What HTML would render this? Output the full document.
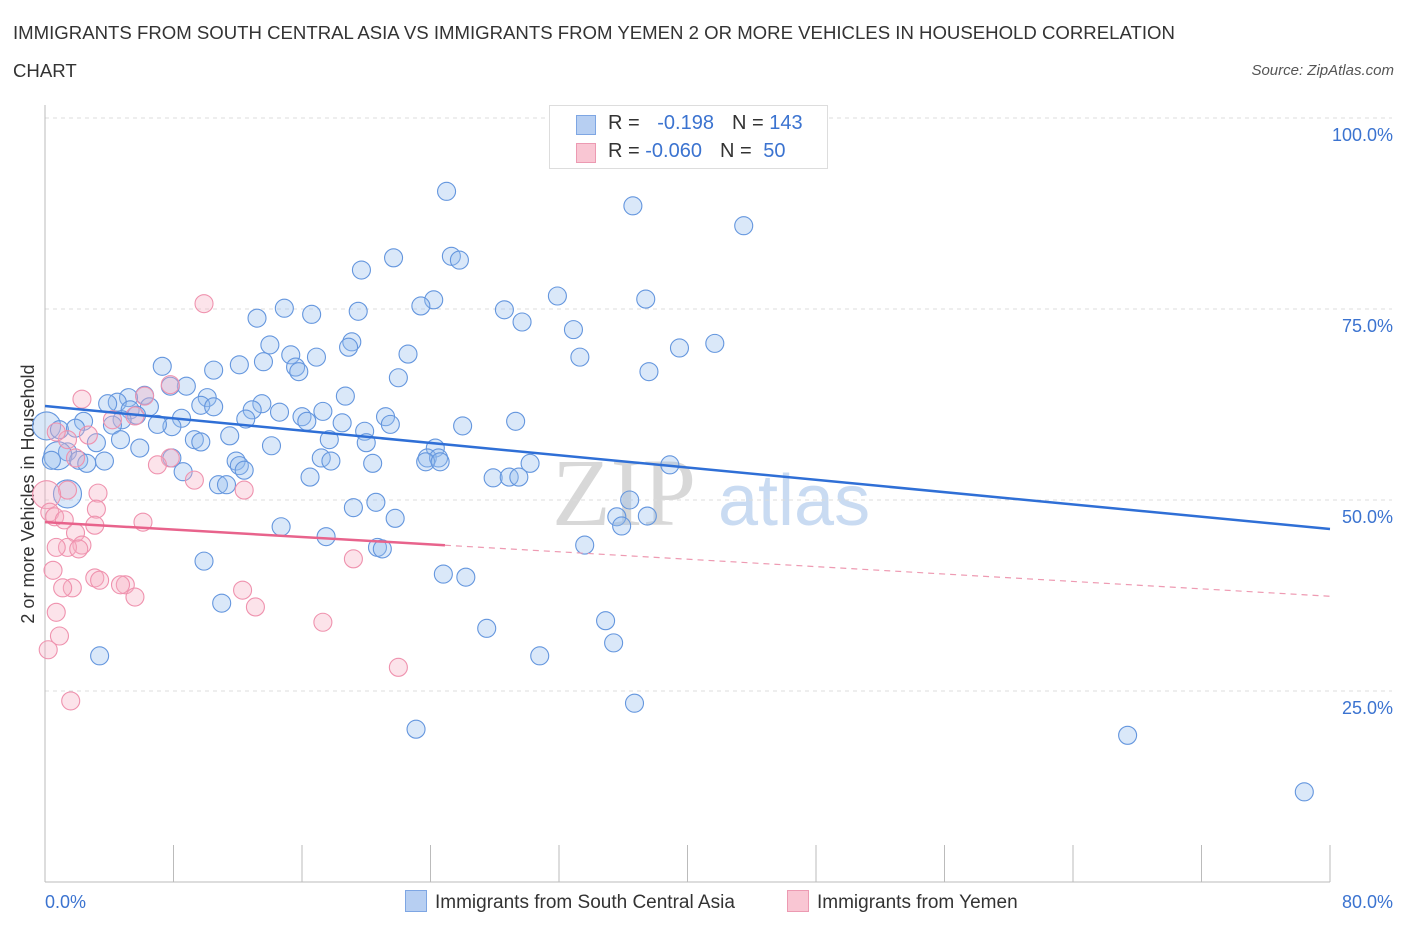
<!DOCTYPE html>
<html><head><meta charset="utf-8"><style>
body{margin:0;background:#fff;font-family:"Liberation Sans",sans-serif}
#wrap{position:relative;width:1406px;height:930px}
.t{position:absolute;white-space:nowrap}
</style></head><body>
<div id="wrap">
<div class="t" style="left:13px;top:14px;font-size:18.6px;color:#333;line-height:38px;width:1200px;white-space:normal">IMMIGRANTS FROM SOUTH CENTRAL ASIA VS IMMIGRANTS FROM YEMEN 2 OR MORE VEHICLES IN HOUSEHOLD CORRELATION CHART</div>
<div class="t" style="right:12px;top:62px;font-size:15px;color:#555;font-style:italic">Source: ZipAtlas.com</div>
<svg id="svg" width="1406" height="930" style="position:absolute;left:0;top:0"></svg>
</div>
<script>
const xTicks=[0,80];
const yTicks=[25,50,75,100];
const blueX=[25.0,36.6,43.5,21.7,25.3,25.8,19.7,31.9,37.4,24.2,23.4,28.6,14.9,16.6,19.5,13.2,29.7,32.9,14.0,19.1,18.9,22.6,39.5,41.7,15.3,16.9,33.3,13.6,12.1,7.3,10.5,15.6,15.8,37.6,22.0,8.8,7.8,6.2,18.7,5.2,10.1,4.5,9.7,10.5,3.9,6.5,5.3,13.5,12.9,14.6,17.3,16.0,16.3,5.7,4.8,21.2,21.5,8.5,12.5,18.5,19.9,26.0,29.3,2.4,4.2,7.9,7.0,0.1,0.9,1.9,11.5,9.3,9.7,4.7,17.7,20.0,24.3,14.1,3.2,5.9,1.4,0.8,0.4,2.1,2.6,3.7,7.9,11.9,12.1,17.2,17.8,20.4,23.8,24.5,23.7,24.6,30.2,8.6,12.4,16.5,27.9,28.9,29.5,38.9,10.8,11.3,1.4,20.6,19.2,36.4,35.6,37.5,21.8,35.9,14.7,17.5,20.7,21.0,33.6,9.9,24.8,26.2,11.0,27.5,34.9,35.4,30.8,3.4,36.7,23.1,67.4,78.4];
const blueY=[90.4,88.5,85.9,81.7,81.9,81.4,80.1,76.7,76.3,76.2,75.4,74.9,75.1,74.3,74.7,73.8,73.3,72.3,70.3,70.7,70.0,69.1,69.9,70.5,69.0,68.7,68.7,68.1,67.7,67.5,67.0,67.4,66.8,66.8,66.0,64.9,64.9,63.7,63.6,63.4,63.4,62.8,62.4,62.2,62.6,62.2,61.8,62.6,61.8,61.5,61.6,60.9,60.3,61.1,60.5,60.9,59.9,60.7,60.6,60.1,59.0,59.7,60.3,60.3,59.8,59.6,59.9,59.7,59.2,59.4,58.4,57.9,57.6,57.9,57.9,57.5,56.8,57.1,57.5,56.8,56.3,55.8,55.2,55.2,54.8,55.1,55.5,55.1,54.5,55.5,55.1,54.8,55.5,55.5,55.0,55.0,54.8,53.7,53.9,53.0,52.9,53.0,53.0,54.6,52.0,52.0,50.8,49.7,49.0,50.0,47.8,47.9,47.6,46.6,46.5,45.2,43.8,43.6,44.1,42.0,40.3,39.9,36.5,33.2,34.2,31.3,29.6,29.6,23.4,20.0,19.2,11.8];
const pinkX=[9.9,2.3,7.8,6.2,5.6,4.2,2.7,1.4,1.9,7.8,7.0,9.3,12.4,3.3,1.4,0.1,0.3,0.6,1.2,3.2,6.1,3.1,1.9,2.3,1.4,0.7,2.1,3.1,3.4,5.0,4.7,1.7,1.1,19.2,0.5,5.6,12.3,13.1,0.7,17.3,0.9,0.2,22.0,1.6,0.7];
const pinkY=[75.7,63.2,65.1,63.6,61.0,60.5,58.5,57.9,55.5,55.5,54.6,52.6,51.3,50.9,51.3,50.7,48.4,47.8,47.4,48.8,47.1,46.7,45.7,44.1,43.8,43.8,43.6,39.8,39.5,38.9,38.9,38.5,38.5,42.3,40.8,37.3,38.2,36.0,35.3,34.0,32.2,30.4,28.1,23.7,58.9];
const blueTrend=[62.3,46.2];
const pinkTrend=[47.1,37.4];
const pinkSolidEnd=24.9;
const big=[[0.1,59.7],[0.8,55.8],[1.4,50.8],[0.1,50.7]];

const X0=45,X1=1330,Y0=882,Y100=118;
const sx=v=>X0+(X1-X0)*v/80;
const sy=v=>Y0-(Y0-Y100)*v/100;
const svg=document.getElementById('svg');
const NS='http://www.w3.org/2000/svg';
function mk(tag,attrs,parent){const e=document.createElementNS(NS,tag);for(const k in attrs)e.setAttribute(k,attrs[k]);(parent||svg).appendChild(e);return e;}

let w=mk('text',{x:552,y:525,'font-size':96,'font-family':'Liberation Serif,serif',fill:'#d8d8d8'});w.textContent='ZIP';


w=mk('text',{x:718,y:525,'font-size':72,'font-family':'Liberation Sans,sans-serif',fill:'#c9dbf2'});w.textContent='atlas';



yTicks.forEach(t=>{
  const g=mk('line',{x1:X0,x2:1392,y1:sy(t),y2:sy(t),stroke:'#dcdcdc','stroke-dasharray':'4,4'});
  
  
  const l=mk('text',{x:1393,y:sy(t)+23,'text-anchor':'end','font-size':18,fill:'#3b73d0','font-family':'Liberation Sans,sans-serif'});
  l.textContent=t.toFixed(1)+'%';
  
  
});
let a=mk('line',{x1:X0,x2:X0,y1:105,y2:Y0,stroke:'#bbb'});


a=mk('line',{x1:X0,x2:X1,y1:Y0,y2:Y0,stroke:'#bbb'});


for(let i=0;i<=10;i++){const tk=mk('line',{x1:sx(i*8),x2:sx(i*8),y1:845,y2:Y0,stroke:'#bbb'});

}
xTicks.forEach((t,i)=>{const l=mk('text',{x:i?1393:45,y:908,'text-anchor':i?'end':'start','font-size':18,fill:'#3b73d0','font-family':'Liberation Sans,sans-serif'});l.textContent=t.toFixed(1)+'%';

});
let yl=mk('text',{x:0,y:0,transform:'translate(34,494) rotate(-90)','text-anchor':'middle','font-size':18,fill:'#333','font-family':'Liberation Sans,sans-serif'});
yl.textContent='2 or more Vehicles in Household';



function isBig(x,y){return big.some(b=>b[0]===x&&b[1]===y);}
blueX.forEach((x,i)=>{const c=mk('circle',{cx:sx(x),cy:sy(blueY[i]),r:isBig(x,blueY[i])?14:9,fill:'rgba(150,188,238,0.35)',stroke:'#6496de','stroke-width':1.1});

});
pinkX.forEach((x,i)=>{const c=mk('circle',{cx:sx(x),cy:sy(pinkY[i]),r:isBig(x,pinkY[i])?14:9,fill:'rgba(245,175,195,0.35)',stroke:'#ef92ae','stroke-width':1.1});

});

let tl=mk('line',{x1:sx(0),y1:sy(blueTrend[0]),x2:sx(80),y2:sy(blueTrend[1]),stroke:'#2f6fd6','stroke-width':2.5});


const py=x=>pinkTrend[0]+(pinkTrend[1]-pinkTrend[0])*x/80;
tl=mk('line',{x1:sx(0),y1:sy(pinkTrend[0]),x2:sx(pinkSolidEnd),y2:sy(py(pinkSolidEnd)),stroke:'#e8638c','stroke-width':2.5});


tl=mk('line',{x1:sx(pinkSolidEnd),y1:sy(py(pinkSolidEnd)),x2:sx(80),y2:sy(pinkTrend[1]),stroke:'#ee9ab2','stroke-width':1.2,'stroke-dasharray':'6,5'});


</script>
<div class="t" style="left:549px;top:105px;width:277px;height:62px;border:1px solid #ddd;background:#fff;font-size:20px;color:#333">
 <div style="position:absolute;left:26px;top:9px;width:18px;height:18px;background:#b7cff2;border:1px solid #7ea6e3"></div>
 <div style="position:absolute;left:58px;top:6px">R = <span style="color:#3b73d0;margin-left:12px">-0.198</span><span style="margin-left:18px">N = </span><span style="color:#3b73d0">143</span></div>
 <div style="position:absolute;left:26px;top:37px;width:18px;height:18px;background:#f9c6d3;border:1px solid #ec9ab2"></div>
 <div style="position:absolute;left:58px;top:34px">R = <span style="color:#3b73d0">-0.060</span><span style="margin-left:18px">N = </span><span style="color:#3b73d0;margin-left:6px">50</span></div>
</div>
<div class="t" style="left:405px;top:890px;font-size:19px;color:#333">
 <span style="display:inline-block;width:20px;height:20px;background:#b7cff2;border:1px solid #7ea6e3;vertical-align:-4px;margin-right:8px"></span>Immigrants from South Central Asia</div>
<div class="t" style="left:787px;top:890px;font-size:19px;color:#333">
 <span style="display:inline-block;width:20px;height:20px;background:#f9c6d3;border:1px solid #ec9ab2;vertical-align:-4px;margin-right:8px"></span>Immigrants from Yemen</div>
</body></html>
